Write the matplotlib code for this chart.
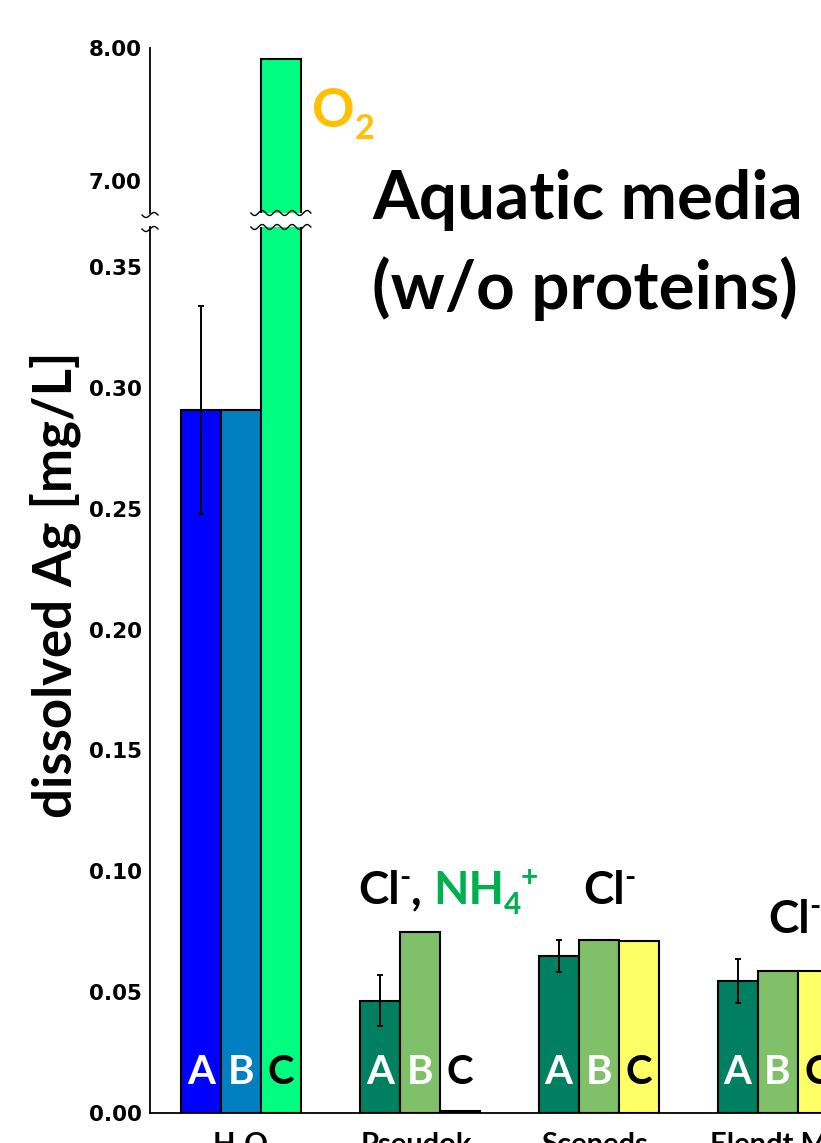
import numpy as np
import matplotlib
matplotlib.use("Agg")
import matplotlib.pyplot as plt
from matplotlib.lines import Line2D

W, H = 821, 1143  # figure size in pixels (dpi 100)

# media and bar values [mg/L]
media = ["H\u2082O", "Pseudok.", "Sceneds.", "Elendt M7"]
letters = ["A", "B", "C"]
val_A = [0.291, 0.0465, 0.065, 0.0546]
err_A = [0.043, 0.0105, 0.0065, 0.009]
val_B = [0.291, 0.0749, 0.0716, 0.0588]
val_C = [7.92, 0.0008, 0.0712, 0.0588]

col_water = ["#0000FF", "#0080C0", "#00FF80"]
col_media = ["#008060", "#80C068", "#FFFF66"]
letter_col = ["white", "white", "black"]

BOLD = ["Lato", "DejaVu Sans"]
TICK = "DejaVu Sans"

fig = plt.figure(figsize=(W / 100, H / 100), dpi=100)


def px_axes(left, top, right, bottom):
    return fig.add_axes([left / W, 1 - bottom / H, (right - left) / W, (bottom - top) / H])


x0, x_end = 150, 867
ax_lo = px_axes(x0, 227, x_end, 1113)
ax_hi = px_axes(x0, 48, x_end, 213)

x = np.arange(len(media))
bw = 0.2235
xlim = (-0.508, 3.5)

for ax in (ax_lo, ax_hi):
    colors = [col_water] + [col_media] * 3
    for i in range(len(media)):
        vals = [val_A[i], val_B[i], val_C[i]]
        for j in range(3):
            ax.bar(x[i] + (j - 1) * bw, vals[j], bw, color=colors[i][j],
                   edgecolor="black", linewidth=1.5, zorder=2)
    ax.errorbar(x - bw, val_A, yerr=err_A, fmt="none", ecolor="black",
                elinewidth=1.4, capsize=2, capthick=1.4, zorder=3)
    ax.set_xlim(*xlim)
    for s in ("top", "right"):
        ax.spines[s].set_visible(False)
    ax.spines["left"].set_linewidth(1.3)
    ax.tick_params(axis="y", length=0, pad=6)

ticks_lo = np.arange(0, 0.351, 0.05)
ax_lo.set_ylim(0, (1113 - 227) / 2417)
ax_lo.set_yticks(ticks_lo)
ax_lo.set_yticklabels([f"{v:.2f}" for v in ticks_lo],
                      fontweight="bold", family=TICK, fontsize=15.5)
ax_lo.spines["bottom"].set_linewidth(1.3)
ax_lo.set_xticks(x)
ax_lo.set_xticklabels(media, fontweight="bold", family=BOLD, fontsize=21)
ax_lo.tick_params(axis="x", length=0, pad=14)

ax_hi.set_ylim(8.0 - (213 - 48) / 133, 8.0)
ax_hi.set_yticks([7.0, 8.0])
ax_hi.set_yticklabels(["7.00", "8.00"], fontweight="bold", family=TICK, fontsize=15.5)
ax_hi.spines["bottom"].set_visible(False)
ax_hi.set_xticks([])

# letters inside the bars
for i in range(len(media)):
    for j in range(3):
        ax_lo.annotate(letters[j], xy=(x[i] + (j - 1) * bw, 0), xytext=(0, 21),
                       textcoords="offset points", ha="center", va="baseline",
                       fontsize=29, fontweight="bold", family=BOLD,
                       color=letter_col[j], zorder=4)

ax_lo.set_ylabel("dissolved Ag [mg/L]", fontsize=38, fontweight="bold",
                 family=BOLD, va="center")
ax_lo.yaxis.set_label_coords((55 - x0) / (x_end - x0), (1113 - 585) / (1113 - 227))


# wavy break marks
def wave(xa, xb, y, periods, amp=2.5):
    xs = np.linspace(xa, xb, 80)
    ys = y + amp * np.sin(np.linspace(0, 2 * np.pi * periods, 80))
    fig.add_artist(Line2D(xs / W, 1 - ys / H, color="black", lw=1.0,
                          transform=fig.transFigure))


bar_l = x0 + (x[0] + bw - bw / 2 - xlim[0]) / (xlim[1] - xlim[0]) * (x_end - x0)
bar_r = bar_l + bw / (xlim[1] - xlim[0]) * (x_end - x0)
wave(bar_l - 10, bar_r + 10, 213, 4)
wave(bar_l - 10, bar_r + 10, 227, 4)
wave(x0 - 8, x0 + 8, 215, 1)
wave(x0 - 8, x0 + 8, 229, 1)

renderer = fig.canvas.get_renderer()


def rich(xp, yp, parts, size):
    # runs of (text, colour, kind) placed one after another on a baseline
    for s, color, kind in parts:
        fs = size if kind == "n" else size * 0.65
        dy = {"n": 0, "sup": -0.38 * size * 1.389, "sub": 0.22 * size * 1.389}[kind]
        t = fig.text(xp / W, 1 - (yp + dy) / H, s, fontsize=fs, color=color,
                     fontweight="bold", family=BOLD, ha="left", va="baseline")
        xp = t.get_window_extent(renderer).x1


orange = "#FFC000"
green = "#00B050"
rich(312, 127, [("O", orange, "n"), ("2", orange, "sub")], 38)
fig.text(372 / W, 1 - 219 / H, "Aquatic media", fontsize=48.5, fontweight="bold",
         family=BOLD, va="baseline")
fig.text(372 / W, 1 - 309 / H, "(w/o proteins)", fontsize=48.5, fontweight="bold",
         family=BOLD, va="baseline")
rich(358, 904, [("Cl", "black", "n"), ("-", "black", "sup"), (", ", "black", "n"),
                ("NH", green, "n"), ("4", green, "sub"), ("+", green, "sup")], 33)
rich(583, 904, [("Cl", "black", "n"), ("-", "black", "sup")], 33)
rich(768, 933, [("Cl", "black", "n"), ("-", "black", "sup")], 33)

fig.savefig("out.png", dpi=100)
